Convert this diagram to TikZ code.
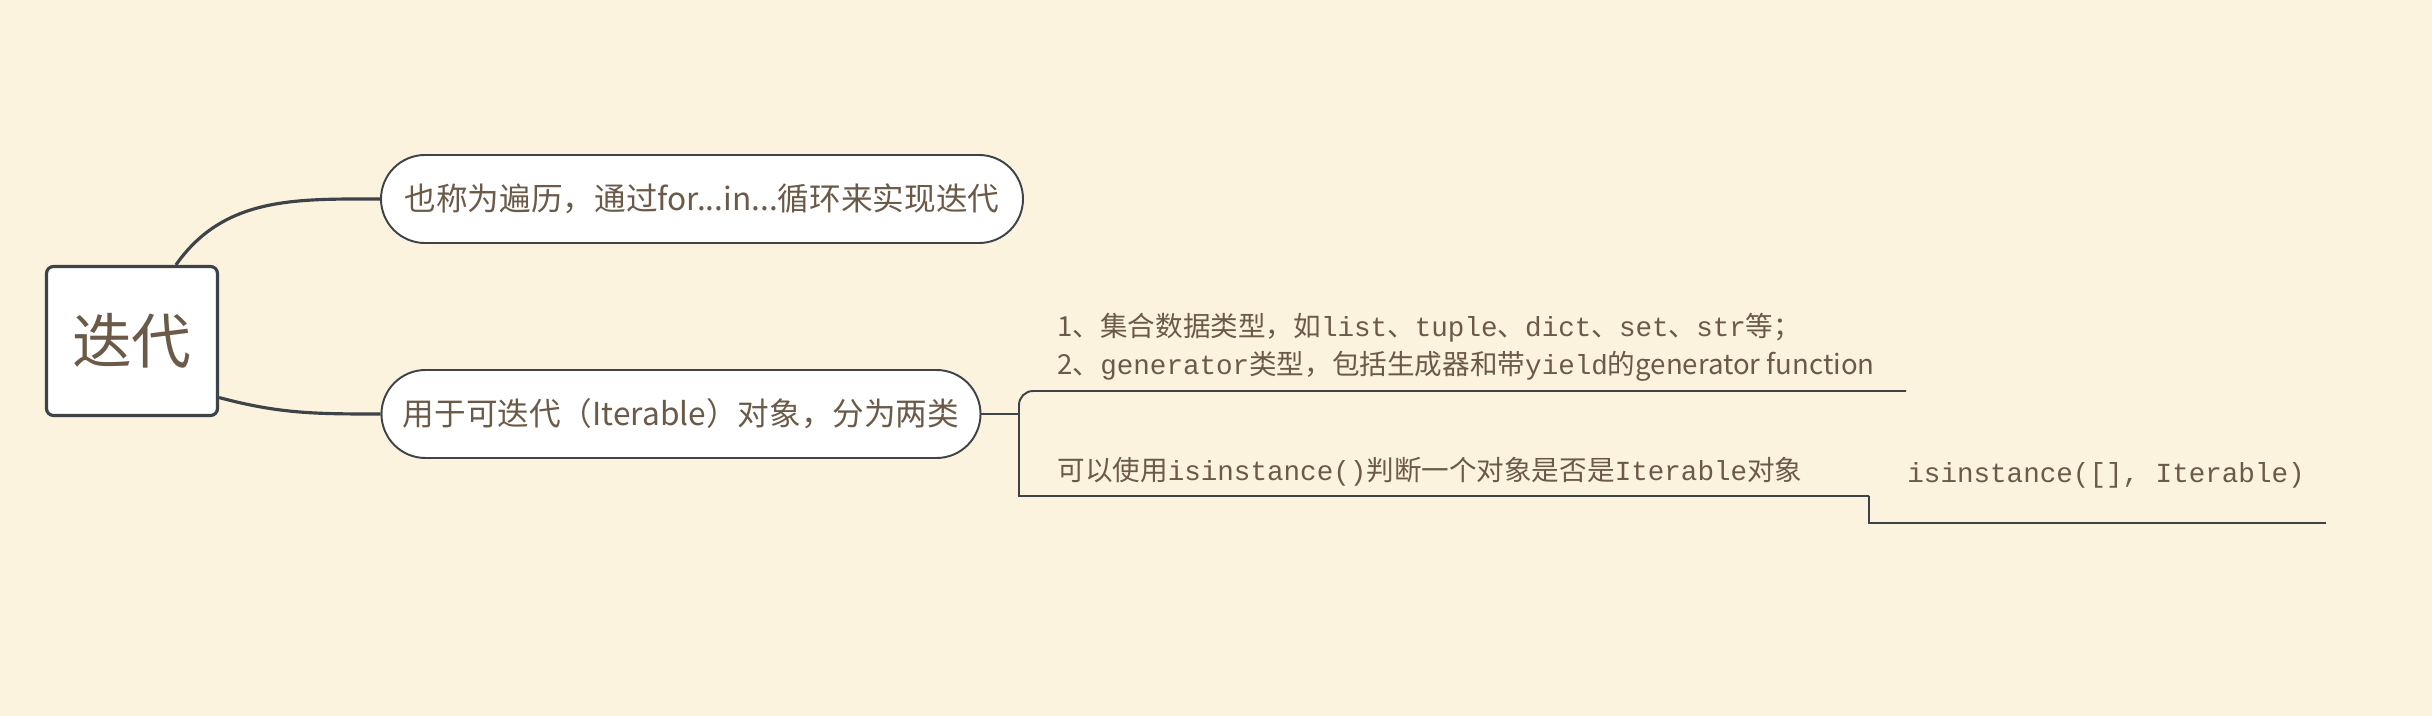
\documentclass[tikz,border=0pt]{standalone}
\usepackage{fontspec}
\setmainfont{Noto Sans CJK SC}
\newfontfamily\codefont{Liberation Mono}
\definecolor{paper}{HTML}{FBF3DE}
\definecolor{ink}{HTML}{3E4347}
\definecolor{wordcol}{HTML}{6B5A48}
\newcommand{\code}[1]{{\codefont #1}}
\begin{document}
\begin{tikzpicture}[thick,
	topic/.style={draw=ink,line width=0.9pt,fill=white,rounded corners=2pt,
		minimum width=1.71cm,minimum height=1.49cm,text=wordcol,
		font=\fontsize{17}{20}\selectfont},
	pill/.style={draw=ink,line width=0.55pt,fill=white,rounded corners=0.44cm,
		minimum height=0.88cm,inner xsep=0.2cm,text=wordcol,
		font=\fontsize{9}{10}\selectfont},
	leaf/.style={anchor=west,inner sep=0pt,align=left,text=wordcol,
		font=\fontsize{7.85}{10.8}\selectfont},
	branch/.style={draw=ink,line width=0.9pt},
	rule/.style={draw=ink,line width=0.55pt}]
\fill[paper] (0,0) rectangle (24.32,-7.16);
\useasboundingbox (0,0) rectangle (24.32,-7.16);
\node[topic] (root) at (1.32,-3.41) {迭代};
\node[pill,minimum width=6.42cm] (desc) at (7.02,-1.99)
	{也称为遍历，通过for...in...循环来实现迭代};
\node[pill,minimum width=5.99cm] (iter) at (6.81,-4.14)
	{用于可迭代（Iterable）对象，分为两类};
\node[leaf] (kinds) at (10.56,-3.47)
	{1、集合数据类型，如\code{list}、\code{tuple}、\code{dict}、\code{set}、\code{str}等；\\
	2、\code{generator}类型，包括生成器和带\code{yield}的generator function};
\node[leaf] (check) at (10.56,-4.72)
	{可以使用\code{isinstance()}判断一个对象是否是\code{Iterable}对象};
\node[leaf] (usage) at (19.06,-4.75) {\code{isinstance([], Iterable)}};
\coordinate (fork) at (10.19,-4.14);
\coordinate (kinds-end) at (19.06,-3.91);
\coordinate (check-end) at (18.69,-4.96);
\coordinate (usage-end) at (23.26,-5.23);
\draw[branch] (root.60) to[out=55,in=180] (desc.west);
\draw[branch] (root.-33) to[out=-15,in=180] (iter.west);
\draw[rule] (iter.east) -- (fork);
\draw[rule] (check-end) -| (fork) [rounded corners=4pt] |- (kinds-end);
\draw[rule] (check-end) |- (usage-end);
\end{tikzpicture}
\end{document}
